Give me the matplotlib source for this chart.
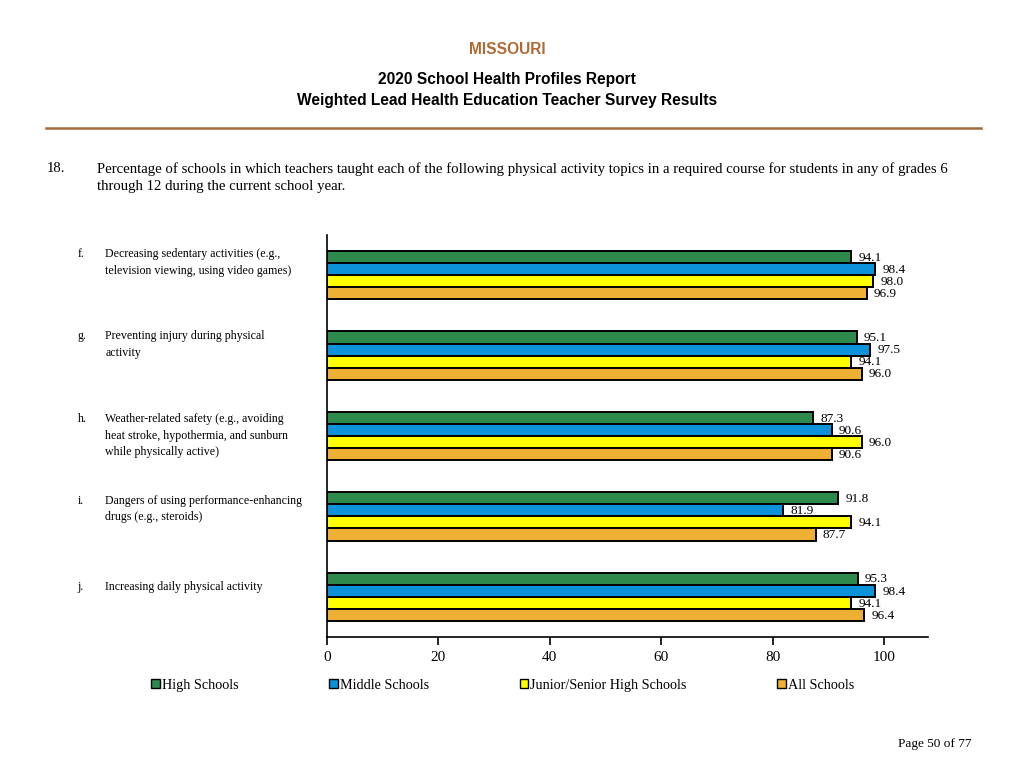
import numpy as np
import matplotlib.pyplot as plt
from matplotlib.lines import Line2D
from matplotlib.patches import Patch

letters = ['f.', 'g.', 'h.', 'i.', 'j.']
topics = [
    'Decreasing sedentary activities (e.g.,\ntelevision viewing, using video games)',
    'Preventing injury during physical\nactivity',
    'Weather-related safety (e.g., avoiding\nheat stroke, hypothermia, and sunburn\nwhile physically active)',
    'Dangers of using performance-enhancing\ndrugs (e.g., steroids)',
    'Increasing daily physical activity',
]
series = ['High Schools', 'Middle Schools', 'Junior/Senior High Schools', 'All Schools']
high = [94.1, 95.1, 87.3, 91.8, 95.3]
middle = [98.4, 97.5, 90.6, 81.9, 98.4]
junior = [98.0, 94.1, 96.0, 94.1, 94.1]
all_schools = [96.9, 96.0, 90.6, 87.7, 96.4]
colors = ['#2e8a4c', '#0b92d9', '#ffff00', '#eeb034']
ticks = [0, 20, 40, 60, 80, 100]

serif = 'Liberation Serif'
sans = 'Liberation Sans'

fig = plt.figure(figsize=(10.24, 7.68), dpi=100)

# header
fig.text(0.495, 0.935, 'MISSOURI', ha='center', va='center', fontsize=11.2,
         fontweight='bold', color='#b06a35', family=sans)
fig.text(0.495, 0.897, '2020 School Health Profiles Report', ha='center', va='center',
         fontsize=11.2, fontweight='bold', family=sans)
fig.text(0.495, 0.869, 'Weighted Lead Health Education Teacher Survey Results', ha='center',
         va='center', fontsize=11.2, fontweight='bold', family=sans)
fig.add_artist(Line2D([0.045, 0.958], [0.833, 0.833], color='#a36a3c', lw=1.8))

fig.text(0.046, 0.780, '18.', ha='left', va='center', fontsize=10.6, family=serif)
fig.text(0.095, 0.780, 'Percentage of schools in which teachers taught each of the following physical '
         'activity topics in a required course for students in any of grades 6', ha='left',
         va='center', fontsize=10.6, family=serif)
fig.text(0.095, 0.757, 'through 12 during the current school year.', ha='left', va='center',
         fontsize=10.6, family=serif)

ax = fig.add_axes([0.3193, 0.1706, 0.5870, 0.5234])
data = [high, middle, junior, all_schools]
y = np.arange(len(topics))
h = 0.15
for i, (vals, col, name) in enumerate(zip(data, colors, series)):
    pos = y - 0.225 + i * h
    ax.barh(pos, vals, height=h, color=col, edgecolor='black', linewidth=1.4, label=name)
    for p, v in zip(pos, vals):
        ax.text(v + 1.3, p + 0.01, f'{v:.1f}', va='center', ha='left', fontsize=9.5, family=serif)

ax.set_xlim(0, 107.9)
ax.set_ylim(4.5, -0.5)
ax.set_xticks(ticks)
ax.set_xticklabels([str(t) for t in ticks], family=serif, fontsize=11)
ax.set_yticks([])
ax.spines['top'].set_visible(False)
ax.spines['right'].set_visible(False)
ax.spines['left'].set_linewidth(1.2)
ax.spines['bottom'].set_linewidth(1.2)
ax.tick_params(axis='x', length=6, width=1.2, direction='out', pad=4)

# category labels
label_y = [0.677, 0.570, 0.462, 0.356, 0.244]
for let, txt, yy in zip(letters, topics, label_y):
    fig.text(0.076, yy, let, ha='left', va='top', fontsize=8.6, family=serif)
    fig.text(0.103, yy, txt, ha='left', va='top', fontsize=8.6, family=serif, linespacing=1.5)

handles = [Patch(facecolor=c, edgecolor='black', label=s) for c, s in zip(colors, series)]
fig.legend(handles=handles, loc='center', bbox_to_anchor=(0.491, 0.108), ncol=4, frameon=False,
           prop={'family': serif, 'size': 10.2}, handlelength=0.6, handleheight=0.6,
           handletextpad=0.15, columnspacing=6.4)

fig.text(0.949, 0.031, 'Page 50 of 77', ha='right', va='center', fontsize=9.5, family=serif)

plt.savefig('out.png', dpi=100)
